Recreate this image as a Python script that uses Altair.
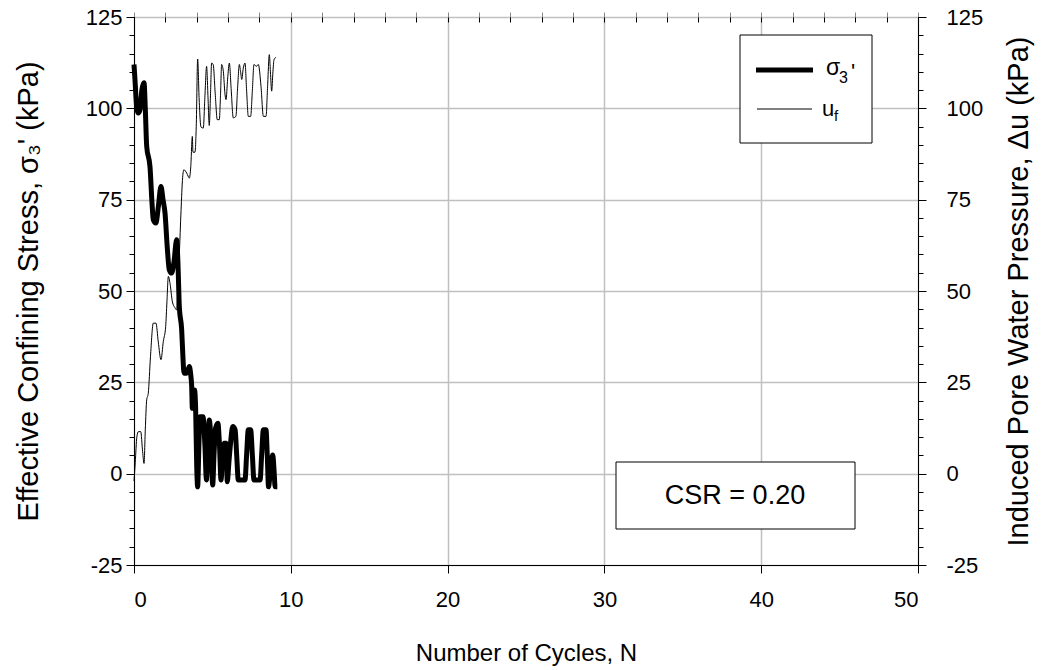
import altair as alt
import pandas as pd

# ---------------- data ----------------
sigma_N = [0.00, 0.06, 0.18, 0.27, 0.38, 0.50, 0.64, 0.72, 0.81, 1.02, 1.15, 1.23, 1.40, 1.55,
           1.72, 1.85, 1.98, 2.12, 2.25, 2.40, 2.55, 2.72, 2.80, 2.89, 3.04, 3.12, 3.19, 3.36,
           3.53, 3.62, 3.68, 3.72, 3.78, 3.86, 3.93, 4.00, 4.06, 4.14, 4.21, 4.40, 4.52, 4.62,
           4.70, 4.80, 4.90, 5.02, 5.10, 5.20, 5.35, 5.45, 5.55, 5.65, 5.75, 5.87, 5.95, 6.05,
           6.15, 6.30, 6.45, 6.55, 6.65, 7.08, 7.18, 7.29, 7.44, 7.55, 7.65, 8.04, 8.14, 8.25,
           8.42, 8.50, 8.58, 8.66, 8.75, 8.85, 8.93, 9.00, 9.14]
sigma_kPa = [112.0, 108.0, 100.0, 98.7, 99.5, 105.0, 107.0, 100.0, 89.6, 84.0, 74.0, 69.5, 68.6, 73.0,
             78.6, 75.0, 71.3, 62.0, 55.8, 54.9, 58.0, 64.0, 58.0, 45.8, 39.4, 32.0, 27.5, 27.5,
             29.3, 27.0, 23.8, 17.9, 22.5, 22.9, 18.0, 2.0, -3.6, 8.0, 15.6, 15.6, 8.0, -1.7,
             6.0, 14.7, 10.0, -3.1, 5.0, 12.5, 13.8, 8.0, -1.7, 5.0, 8.3, 8.3, -2.2, 3.0,
             8.0, 12.9, 12.0, 5.0, -1.7, -1.7, 5.0, 12.0, 12.0, 5.0, -1.7, -1.7, 5.0, 12.0,
             12.0, 5.0, -3.6, -1.0, 3.0, 5.1, 1.0, -3.6, -3.6]

uf_N = [0.00, 0.08, 0.18, 0.28, 0.43, 0.55, 0.64, 0.72, 0.81, 0.91, 1.05, 1.23, 1.40, 1.55,
        1.72, 1.87, 2.02, 2.10, 2.19, 2.30, 2.45, 2.60, 2.72, 2.80, 2.89, 3.00, 3.10, 3.18,
        3.36, 3.53, 3.62, 3.72, 3.76, 3.89, 3.97, 4.06, 4.15, 4.27, 4.42, 4.52, 4.63, 4.72,
        4.80, 4.88, 4.95, 5.05, 5.18, 5.31, 5.44, 5.52, 5.59, 5.70, 5.80, 5.87, 5.97, 6.08,
        6.20, 6.33, 6.50, 6.60, 6.72, 6.80, 6.87, 6.97, 7.08, 7.18, 7.29, 7.44, 7.55, 7.65,
        7.80, 7.93, 8.10, 8.25, 8.42, 8.52, 8.63, 8.70, 8.78, 8.86, 8.93, 9.06]
uf_kPa = [-2.0, 3.0, 10.0, 11.5, 11.5, 6.0, 2.8, 12.0, 20.2, 22.0, 32.0, 41.2, 41.2, 36.0,
          31.2, 36.2, 40.3, 47.0, 54.0, 52.0, 47.0, 45.5, 44.8, 52.0, 60.0, 72.0, 81.0, 83.2,
          82.3, 80.9, 84.0, 92.3, 88.0, 88.0, 95.0, 113.5, 103.0, 94.9, 94.6, 103.0, 111.5, 103.0,
          95.3, 104.0, 112.4, 112.0, 104.0, 96.9, 96.9, 104.0, 112.0, 110.0, 104.0, 102.4, 108.0, 112.4,
          105.0, 97.4, 97.8, 105.0, 112.0, 110.0, 107.9, 111.0, 112.4, 105.0, 97.8, 97.8, 105.0, 112.0,
          111.5, 112.0, 106.0, 97.8, 97.8, 106.0, 114.7, 110.0, 104.7, 110.0, 113.3, 114.0]

x_major = [0, 10, 20, 30, 40, 50]
x_minor = list(range(0, 51, 2))
y_major = [-25, 0, 25, 50, 75, 100, 125]
y_minor = list(range(-25, 126, 5))

x_title = "Number of Cycles, N"
y_left_title = "Effective Confining Stress, \u03c3\u2083' (kPa)"
y_right_title = "Induced Pore Water Pressure, \u0394u (kPa)"
csr_text = "CSR = 0.20"
leg_sigma = ["\u03c3", "3", "'"]
leg_u = ["u", "f"]

# ---------------- layout ----------------
W, H = 784, 548
FONT = "Liberation Sans"
LBL = 22
TTL = 24
YTTL = 29

sig_df = pd.DataFrame({"N": sigma_N, "v": sigma_kPa})
uf_df = pd.DataFrame({"N": uf_N, "v": uf_kPa})
one = pd.DataFrame({"a": [0]})

xs = alt.Scale(domain=[0, 50], nice=False, zero=False)
ys = alt.Scale(domain=[-25, 125], nice=False, zero=False)

common = dict(domainColor="black", tickColor="black", labelColor="black",
              titleColor="black", labelFont=FONT, titleFont=FONT,
              labelFontSize=LBL, titleFontWeight="normal")

ax_x_major = alt.Axis(values=x_major, tickSize=8, labelPadding=16, grid=True,
                      gridColor="#c0c0c0", gridWidth=1.5, title=x_title,
                      titleFontSize=TTL, titleX=W / 2, titleY=95,
                      titleBaseline="alphabetic",
                      labelExpr="'' + datum.value", **common)
ax_x_minor = alt.Axis(values=x_minor, tickSize=5, labels=False, grid=False,
                      domain=False, title=None)
ax_x_top = alt.Axis(orient="bottom", offset=-H, values=x_minor, tickSize=5,
                    labels=False, grid=False, domain=False, title=None,
                    tickColor="black")

ax_y_left = alt.Axis(orient="left", values=y_major, tickSize=8, labelPadding=4,
                     grid=True, gridColor="#c0c0c0", gridWidth=1.5,
                     title=y_left_title, titleFontSize=YTTL, titleAngle=-90,
                     titleX=-106, titleY=H / 2,
                     titleAlign="center", titleBaseline="middle",
                     labelExpr="'' + datum.value", **common)
ax_y_left_minor = alt.Axis(orient="left", values=y_minor, tickSize=5, labels=False,
                           grid=False, domain=False, title=None, tickColor="black")
ax_y_right = alt.Axis(orient="right", values=y_major, tickSize=8, labelPadding=20,
                      grid=False, title=y_right_title, titleFontSize=YTTL,
                      titleAngle=-90, titleX=100,
                      titleY=H / 2, titleAlign="center", titleBaseline="middle",
                      labelExpr="'' + datum.value", **common)
ax_y_right_minor = alt.Axis(orient="right", values=y_minor, tickSize=5, labels=False,
                            grid=False, domain=False, title=None, tickColor="black")

sigma_line = alt.Chart(sig_df).mark_line(
    color="black", strokeWidth=5, interpolate="monotone", strokeJoin="round"
).encode(
    x=alt.X("N:Q", scale=xs, axis=ax_x_major),
    y=alt.Y("v:Q", scale=ys, axis=ax_y_left),
)

uf_line = alt.Chart(uf_df).mark_line(
    color="black", strokeWidth=1, interpolate="monotone"
).encode(
    x=alt.X("N:Q", scale=xs, axis=ax_x_minor),
    y=alt.Y("v:Q", scale=ys, axis=ax_y_right),
)

ghost1 = alt.Chart(sig_df).mark_point(opacity=0).encode(
    x=alt.X("N:Q", scale=xs, axis=ax_x_top),
    y=alt.Y("v:Q", scale=ys, axis=ax_y_left_minor),
)
ghost2 = alt.Chart(sig_df).mark_point(opacity=0).encode(
    x=alt.X("N:Q", scale=xs, axis=None),
    y=alt.Y("v:Q", scale=ys, axis=ax_y_right_minor),
)

# legend box
leg_box = alt.Chart(one).mark_rect(fill="white", stroke="black", strokeWidth=1).encode(
    x=alt.value(606), x2=alt.value(738), y=alt.value(18), y2=alt.value(126))
leg_l1 = alt.Chart(one).mark_rule(color="black", strokeWidth=5).encode(
    x=alt.value(622), x2=alt.value(679), y=alt.value(53))
leg_l2 = alt.Chart(one).mark_rule(color="black", strokeWidth=1).encode(
    x=alt.value(623), x2=alt.value(678), y=alt.value(92))


def txt(s, x, y, size, align="left", baseline="alphabetic"):
    return alt.Chart(one).mark_text(
        text=s, font=FONT, fontSize=size, color="black", align=align, baseline=baseline
    ).encode(x=alt.value(x), y=alt.value(y))


leg_t = [
    txt(leg_sigma[0], 692, 58, 23),
    txt(leg_sigma[1], 705, 66, 16),
    txt(leg_sigma[2], 717, 62, 22),
    txt(leg_u[0], 688, 99, 22),
    txt(leg_u[1], 700, 104, 15),
]

csr_box = alt.Chart(one).mark_rect(fill="white", stroke="black", strokeWidth=1).encode(
    x=alt.value(482), x2=alt.value(721), y=alt.value(445), y2=alt.value(512))
csr_t = txt(csr_text, 601, 479, 27, align="center", baseline="middle")

chart = alt.layer(
    sigma_line, uf_line, ghost1, ghost2, leg_box, leg_l1, leg_l2, *leg_t, csr_box, csr_t
).resolve_scale(x="shared", y="shared").resolve_axis(
    x="independent", y="independent"
).properties(
    width=W, height=H,
    padding={"left": 134, "top": 17, "right": 123, "bottom": 105},
    autosize=alt.AutoSizeParams(type="none"),
    background="white",
).configure_view(stroke="black", strokeWidth=1)

chart.save("out.html", embed_options={"renderer": "svg", "actions": False})
